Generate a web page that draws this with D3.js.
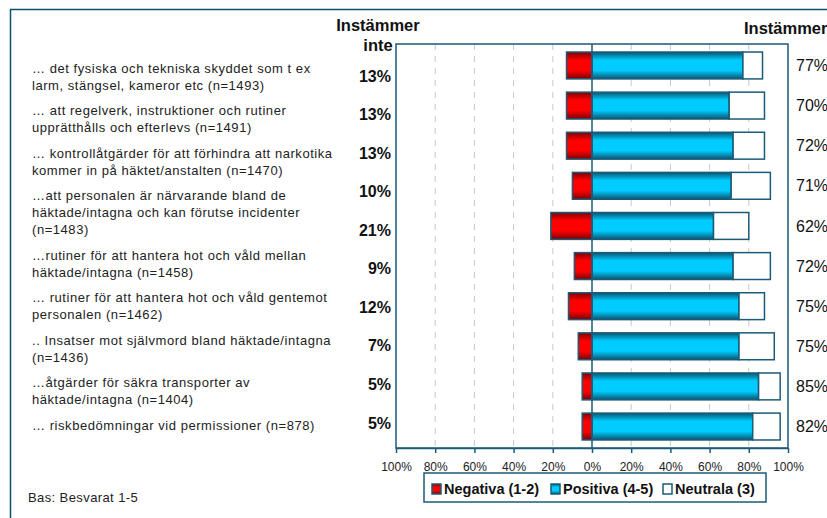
<!DOCTYPE html>
<html>
<head>
<meta charset="utf-8">
<script src="https://cdn.jsdelivr.net/npm/d3@7"></script>
<style>
  body { margin: 0; background: #fff; }
  svg { display: block; font-family: "Liberation Sans", Arial, sans-serif; }
</style>
</head>
<body>
<div id="chart"></div>
<script>
// values
var rows = [0,1,2,3,4,5,6,7,8,9];
var negativa = [13,13,13,10,21,9,12,7,5,5];
var positiva = [77,70,72,71,62,72,75,75,85,82];
var neutrala = [10,18,16,20,18,19,13,18,11,14];
var instammerInte = ["13%","13%","13%","10%","21%","9%","12%","7%","5%","5%"];
var instammer = ["77%","70%","72%","71%","62%","72%","75%","75%","85%","82%"];
var labels = [
  ["\u2026 det fysiska och tekniska skyddet som t ex", "larm, st\u00e4ngsel, kameror etc (n=1493)"],
  ["\u2026 att regelverk, instruktioner och rutiner", "uppr\u00e4tth\u00e5lls och efterlevs (n=1491)"],
  ["\u2026 kontroll\u00e5tg\u00e4rder f\u00f6r att f\u00f6rhindra att narkotika", "kommer in p\u00e5 h\u00e4ktet/anstalten (n=1470)"],
  ["\u2026att personalen \u00e4r n\u00e4rvarande bland de", "h\u00e4ktade/intagna och kan f\u00f6rutse incidenter", "(n=1483)"],
  ["\u2026rutiner f\u00f6r att hantera hot och v\u00e5ld mellan", "h\u00e4ktade/intagna (n=1458)"],
  ["\u2026 rutiner f\u00f6r att hantera hot och v\u00e5ld gentemot", "personalen (n=1462)"],
  [".. Insatser mot sj\u00e4lvmord bland h\u00e4ktade/intagna", "(n=1436)"],
  ["\u2026\u00e5tg\u00e4rder f\u00f6r s\u00e4kra transporter av", "h\u00e4ktade/intagna (n=1404)"],
  ["\u2026 riskbed\u00f6mningar vid permissioner (n=878)"]
];
var ticks = [-100,-80,-60,-40,-20,0,20,40,60,80,100];
var legendItems = ["Negativa (1-2)", "Positiva (4-5)", "Neutrala (3)"];

var W = 827, H = 518;
var teal = "#1b5b78";

var svg = d3.select("#chart").append("svg")
    .attr("width", W).attr("height", H);

// gradients for the bars
var defs = svg.append("defs");
function grad(id, dark, bright) {
  var g = defs.append("linearGradient").attr("id", id)
      .attr("x1", 0).attr("y1", 0).attr("x2", 0).attr("y2", 1);
  g.append("stop").attr("offset", "0%").attr("stop-color", dark);
  g.append("stop").attr("offset", "30%").attr("stop-color", bright);
  g.append("stop").attr("offset", "68%").attr("stop-color", bright);
  g.append("stop").attr("offset", "100%").attr("stop-color", dark);
}
grad("gRed", "#7a0000", "#ff0000");
grad("gBlue", "#0a5470", "#00ccff");

// outer frame
svg.append("path")
    .attr("d", "M10.5," + H + "V9.5H" + W)
    .attr("fill", "none").attr("stroke", "#0f4e6c").attr("stroke-width", 1.5);

var x = d3.scaleLinear().domain([-100, 100]).range([396, 788]);
var y = d3.scaleBand().domain(rows).range([44, 448]).paddingInner(0.33).paddingOuter(0.2);

// gridlines
svg.append("g").selectAll("line")
  .data(ticks.filter(function(t){ return t !== 0 && Math.abs(t) !== 100; }))
  .enter().append("line")
    .attr("x1", function(d){ return x(d); }).attr("x2", function(d){ return x(d); })
    .attr("y1", 44).attr("y2", 448)
    .attr("stroke", "#c8c8c8").attr("stroke-width", 1)
    .attr("stroke-dasharray", "6,6");

// plot frame
svg.append("rect")
    .attr("x", x(-100)).attr("y", 44)
    .attr("width", x(100) - x(-100)).attr("height", 448 - 44)
    .attr("fill", "none").attr("stroke", teal).attr("stroke-width", 1.5);

// bars
var bars = svg.append("g").selectAll("g").data(rows).enter().append("g");
bars.append("rect")
    .attr("x", function(i){ return x(-negativa[i]); })
    .attr("y", function(i){ return y(i); })
    .attr("width", function(i){ return x(0) - x(-negativa[i]); })
    .attr("height", y.bandwidth())
    .attr("fill", "url(#gRed)").attr("stroke", teal).attr("stroke-width", 1.5);
bars.append("rect")
    .attr("x", x(0))
    .attr("y", function(i){ return y(i); })
    .attr("width", function(i){ return x(positiva[i]) - x(0); })
    .attr("height", y.bandwidth())
    .attr("fill", "url(#gBlue)").attr("stroke", teal).attr("stroke-width", 1.5);
bars.append("rect")
    .attr("x", function(i){ return x(positiva[i]); })
    .attr("y", function(i){ return y(i); })
    .attr("width", function(i){ return x(positiva[i] + neutrala[i]) - x(positiva[i]); })
    .attr("height", y.bandwidth())
    .attr("fill", "#fff").attr("stroke", teal).attr("stroke-width", 1.5);

// zero line
svg.append("line")
    .attr("x1", x(0)).attr("x2", x(0)).attr("y1", 44).attr("y2", 448)
    .attr("stroke", teal).attr("stroke-width", 1.5);

// x axis
var axis = svg.append("g").attr("transform", "translate(0,448)")
    .call(d3.axisBottom(x).tickValues(ticks).tickSizeOuter(0).tickSizeInner(5)
      .tickFormat(function(d){ return Math.abs(d) + "%"; }));
axis.select(".domain").attr("stroke", teal).attr("stroke-width", 1.5);
axis.selectAll(".tick line").attr("stroke", teal).attr("stroke-width", 1.5);
axis.selectAll(".tick text")
    .attr("y", 14).attr("font-size", 12)
    .attr("font-family", "Liberation Sans, Arial, sans-serif").attr("fill", "#222");

// right percentages
svg.append("g").selectAll("text").data(rows).enter().append("text")
    .attr("x", 796)
    .attr("y", function(i){ return y(i) + y.bandwidth() / 2; })
    .attr("dy", "0.35em")
    .attr("font-size", 16).attr("fill", "#111")
    .text(function(i){ return instammer[i]; });

// left percentages (separate table in the original, slightly tighter spacing)
var yl = d3.scalePoint().domain(rows).range([76, 423]);
svg.append("g").selectAll("text").data(rows).enter().append("text")
    .attr("x", 391)
    .attr("y", function(i){ return yl(i); })
    .attr("dy", "0.35em")
    .attr("text-anchor", "end")
    .attr("font-size", 16).attr("font-weight", "bold").attr("fill", "#111")
    .text(function(i){ return instammerInte[i]; });

// category labels, flowing text
var lineH = 17, blockGap = 8.5, yy = 68;
var lab = svg.append("g").attr("font-size", 13).attr("letter-spacing", 0.55).attr("fill", "#222");
labels.forEach(function(lines) {
  var t = lab.append("text");
  lines.forEach(function(s, k) {
    t.append("tspan").attr("x", 32).attr("y", yy + k * lineH).attr("dy", "0.35em").text(s);
  });
  yy += lines.length * lineH + blockGap;
});

// headers
svg.append("text").attr("x", 378).attr("y", 25).attr("dy", "0.35em")
    .attr("text-anchor", "middle").attr("font-size", 16.5).attr("font-weight", "bold")
    .attr("fill", "#111").text("Inst\u00e4mmer");
svg.append("text").attr("x", 378).attr("y", 45).attr("dy", "0.35em")
    .attr("text-anchor", "middle").attr("font-size", 16.5).attr("font-weight", "bold")
    .attr("fill", "#111").text("inte");
svg.append("text").attr("x", 744).attr("y", 28).attr("dy", "0.35em")
    .attr("font-size", 16.5).attr("font-weight", "bold")
    .attr("fill", "#111").text("Inst\u00e4mmer");

// legend
var lg = svg.append("g");
lg.append("rect").attr("x", 424).attr("y", 473).attr("width", 342).attr("height", 29)
    .attr("fill", "#fff").attr("stroke", teal).attr("stroke-width", 1.5);
var legX = [432, 551, 663];
var legFill = ["url(#gRed)", "url(#gBlue)", "#fff"];
legendItems.forEach(function(s, i) {
  lg.append("rect").attr("x", legX[i]).attr("y", 484).attr("width", 9).attr("height", 10)
      .attr("fill", legFill[i]).attr("stroke", teal).attr("stroke-width", 1.5);
  lg.append("text").attr("x", legX[i] + 12).attr("y", 489).attr("dy", "0.35em")
      .attr("font-size", 14.5).attr("font-weight", "bold").attr("fill", "#111").text(s);
});

svg.append("text").attr("x", 28).attr("y", 497).attr("dy", "0.35em")
    .attr("font-size", 13).attr("letter-spacing", 0.4).attr("fill", "#222").text("Bas: Besvarat 1-5");
</script>
</body>
</html>
